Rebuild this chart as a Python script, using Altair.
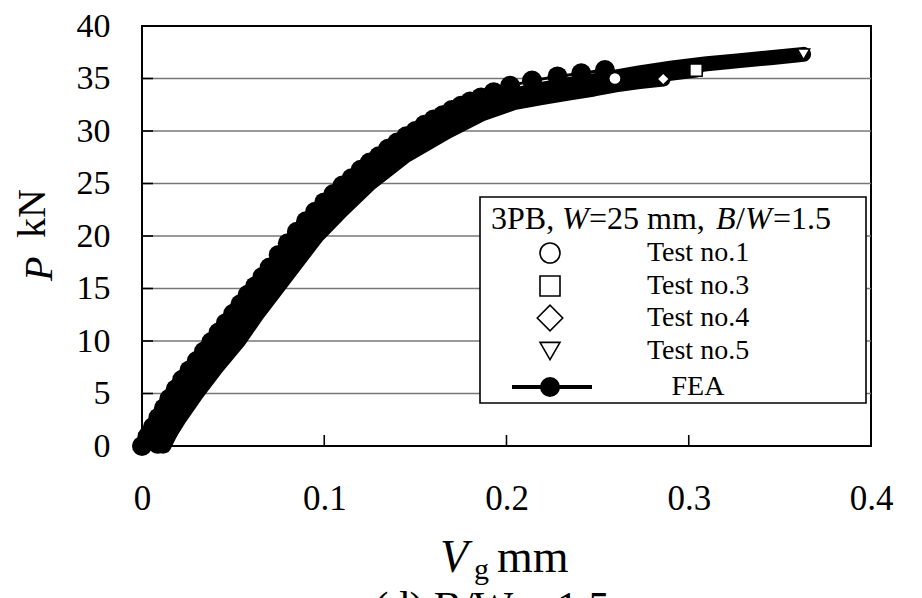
import altair as alt
import pandas as pd

# Load P (kN) against gauge opening Vg (mm), 3PB specimens, W = 25 mm, B/W = 1.5
test1_v = [0.009, 0.017, 0.027, 0.038, 0.049, 0.059, 0.070, 0.081, 0.092, 0.105, 0.120, 0.139,
           0.160, 0.180, 0.198, 0.214, 0.230, 0.245, 0.2595]
test1_p = [0, 2.5, 5, 7.5, 10, 12.5, 15, 17.5, 20, 22.5, 25, 27.7,
           30, 31.8, 33.0, 33.7, 34.2, 34.6, 35.0]

test3_v = [0.012, 0.019, 0.028, 0.039, 0.050, 0.061, 0.071, 0.082, 0.093, 0.107, 0.122, 0.141,
           0.163, 0.182, 0.200, 0.218, 0.236, 0.254, 0.272, 0.290, 0.304]
test3_p = [0, 2.5, 5, 7.5, 10, 12.5, 15, 17.5, 20, 22.5, 25, 27.7,
           30, 31.9, 33.1, 33.8, 34.3, 34.8, 35.2, 35.5, 35.8]

test4_v = [0.011, 0.020, 0.030, 0.041, 0.053, 0.063, 0.074, 0.085, 0.096, 0.110, 0.125, 0.145,
           0.168, 0.186, 0.204, 0.220, 0.234, 0.248, 0.260, 0.273, 0.286]
test4_p = [0, 2.5, 5, 7.5, 10, 12.5, 15, 17.5, 20, 22.5, 25, 27.7,
           30, 31.6, 32.7, 33.2, 33.6, 34.0, 34.4, 34.7, 34.95]

test5_v = [0.008, 0.016, 0.025, 0.036, 0.047, 0.057, 0.068, 0.079, 0.090, 0.103, 0.118, 0.136,
           0.157, 0.176, 0.195, 0.214, 0.233, 0.252, 0.272, 0.291, 0.310, 0.328, 0.346, 0.363]
test5_p = [0, 2.5, 5, 7.5, 10, 12.5, 15, 17.5, 20, 22.5, 25, 27.7,
           30, 31.8, 33.0, 33.8, 34.4, 34.9, 35.5, 36.0, 36.4, 36.7, 37.0, 37.3]

fea_v = [0, 0.003, 0.006, 0.009, 0.012, 0.015, 0.0185, 0.022, 0.026, 0.030, 0.034, 0.038,
         0.042, 0.046, 0.050, 0.054, 0.058, 0.062, 0.066, 0.070, 0.075, 0.080, 0.085, 0.090,
         0.095, 0.100, 0.105, 0.110, 0.115, 0.120, 0.125, 0.130, 0.135, 0.140, 0.145, 0.150,
         0.155, 0.160, 0.165, 0.170, 0.175, 0.180, 0.186, 0.193, 0.202, 0.214, 0.228, 0.241, 0.254]
fea_p = [0, 0.9, 1.8, 2.7, 3.6, 4.5, 5.4, 6.3, 7.2, 8.1, 9.0, 9.9,
         10.8, 11.7, 12.6, 13.5, 14.4, 15.2, 16.1, 17.0, 18.2, 19.3, 20.4, 21.4,
         22.3, 23.2, 24.0, 24.8, 25.5, 26.3, 27.0, 27.6, 28.3, 28.9, 29.5, 30.0,
         30.6, 31.1, 31.5, 32.0, 32.4, 32.8, 33.2, 33.7, 34.3, 34.8, 35.2, 35.5, 35.8]

test_names = ["Test no.1", "Test no.3", "Test no.4", "Test no.5"]
test_shapes = ["circle", "square", "diamond", "triangle-down"]

x_ticks = [0, 0.1, 0.2, 0.3, 0.4]
y_ticks = [0, 5, 10, 15, 20, 25, 30, 35, 40]

W, H = 729, 420
SERIF = "Liberation Serif"

tests = pd.concat([
    pd.DataFrame({"series": name, "v": v, "p": p, "i": range(len(v))})
    for name, v, p in zip(test_names, [test1_v, test3_v, test4_v, test5_v],
                          [test1_p, test3_p, test4_p, test5_p])
], ignore_index=True)
ends = tests.sort_values("i").groupby("series", as_index=False).last()
fea = pd.DataFrame({"v": fea_v, "p": fea_p})

xs = alt.Scale(domain=[0, 0.4], nice=False, zero=False)
ys = alt.Scale(domain=[0, 40], nice=False, zero=False)
x_axis = alt.Axis(values=x_ticks, format="~g", ticks=False, domain=False, grid=False, title=None,
                  labelFont=SERIF, labelFontSize=35, labelColor="black", labelPadding=35,
                  labelFlush=False)
y_axis = alt.Axis(values=y_ticks, format="d", ticks=False, domain=False, grid=False, title=None,
                  labelFont=SERIF, labelFontSize=34, labelColor="black", labelPadding=32,
                  labelFlush=False)


def X(field="v"):
    return alt.X(f"{field}:Q", scale=xs, axis=x_axis)


def Y(field="p"):
    return alt.Y(f"{field}:Q", scale=ys, axis=y_axis)


one = pd.DataFrame({"k": [0]})

grid = alt.Chart(pd.DataFrame({"p": y_ticks[1:-1]})).mark_rule(color="#777777", strokeWidth=1.6).encode(
    y=Y(), x=alt.value(0), x2=alt.value(W))
yticks = alt.Chart(pd.DataFrame({"p": y_ticks[1:-1]})).mark_rule(color="black", strokeWidth=1.6).encode(
    y=Y(), x=alt.value(0), x2=alt.value(11))
xticks = alt.Chart(pd.DataFrame({"v": x_ticks[1:-1]})).mark_rule(color="black", strokeWidth=1.6).encode(
    x=X(), y=alt.value(H), y2=alt.value(H - 11))

fea_line = alt.Chart(fea).mark_line(color="black", strokeWidth=3).encode(x=X(), y=Y())
fea_pts = alt.Chart(fea).mark_point(shape="circle", filled=True, color="black", size=400,
                                    opacity=1).encode(x=X(), y=Y())

test_band = alt.Chart(tests).mark_line(color="black", strokeWidth=15, strokeCap="round",
                                       strokeJoin="round").encode(
    x=X(), y=Y(), detail="series:N", order="i:Q")
test_ends = alt.Chart(ends).mark_point(fill="white", stroke="black", strokeWidth=1.5, size=150,
                                       opacity=1, fillOpacity=1).encode(
    x=X(), y=Y(),
    shape=alt.Shape("series:N", scale=alt.Scale(domain=test_names, range=test_shapes), legend=None))


def text(s, x, y, size=28, style="normal", align="left", baseline="middle", angle=0):
    return alt.Chart(one).mark_text(text=s, font=SERIF, fontSize=size, fontStyle=style, align=align,
                                    baseline=baseline, angle=angle,
                                    color="black").encode(x=alt.value(x), y=alt.value(y))


# legend box
box = alt.Chart(one).mark_rect(fill="white", stroke="black", strokeWidth=1.6).encode(
    x=alt.value(338), x2=alt.value(724), y=alt.value(171), y2=alt.value(377))

legend_parts = [
    text("3PB,", 349, 193, 32), text("W", 420, 193, 32, "italic"), text("=25 mm,", 447, 193, 32),
    text("B", 574, 193, 32, "italic"), text("/", 594, 193, 32), text("W", 603, 193, 32, "italic"),
    text("=1.5", 631, 193, 32),
]
row_y = [227, 260, 292, 325]
leg_sizes = [400, 400, 650, 400]
for name, shp, ry, sz in zip(test_names, test_shapes, row_y, leg_sizes):
    legend_parts.append(alt.Chart(one).mark_point(shape=shp, fill="white", stroke="black", strokeWidth=1.6,
                                                  size=sz, opacity=1, fillOpacity=1).encode(
        x=alt.value(408), y=alt.value(ry)))
    legend_parts.append(text(name, 556, ry, 28, align="center"))
legend_parts.append(alt.Chart(one).mark_rule(color="black", strokeWidth=4).encode(
    x=alt.value(370), x2=alt.value(450), y=alt.value(361)))
legend_parts.append(alt.Chart(one).mark_point(shape="circle", filled=True, color="black", size=400,
                                              opacity=1).encode(x=alt.value(408), y=alt.value(361)))
legend_parts.append(text("FEA", 556, 361, 28, align="center"))

# axis titles and caption
titles = [
    text("P", -102, 255, 40, "italic", angle=270),
    text("kN", -109, 212, 40, angle=270),
    text("V", 298, 546, 46, "italic", baseline="alphabetic"),
    text("g", 332, 553, 30, baseline="alphabetic"),
    text("mm", 355, 546, 46, baseline="alphabetic"),
    text("(d)  B/W  =  1.5", 350, 595, 42, align="center", baseline="alphabetic"),
]

chart = alt.layer(
    grid, yticks, xticks, fea_line, fea_pts, test_band, test_ends, box, *legend_parts, *titles
).properties(
    width=W, height=H,
    autosize=alt.AutoSizeParams(type="none"),
    padding={"left": 142, "top": 26, "right": 51, "bottom": 152},
).configure_view(stroke="black", strokeWidth=2)

chart.save("out.html", embed_options={"renderer": "svg", "actions": False})
